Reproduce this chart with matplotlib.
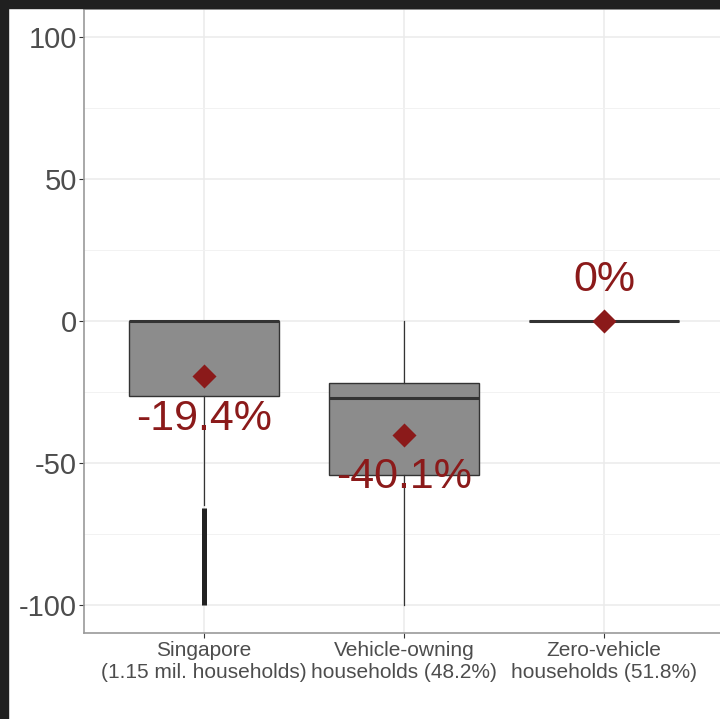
import matplotlib.pyplot as plt
from matplotlib.patches import Rectangle

plt.rcParams['font.family'] = ['Liberation Sans', 'DejaVu Sans']
plt.rcParams['axes.unicode_minus'] = False

# change in household share per group (%)
groups = ["Singapore\n(1.15 mil. households)",
          "Vehicle-owning\nhouseholds (48.2%)",
          "Zero-vehicle\nhouseholds (51.8%)"]
q1 = [-26.5, -54.3, 0]
median = [0, -27, 0]
q3 = [0, -22, 0]
whisker_low = [-65, -100, 0]
whisker_high = [0, 0, 0]
means = [-19.4, -40.1, 0]
# Singapore outliers sit so close together they form a solid bar
outlier_low = -100
outlier_high = -66

box_fill = "#8c8c8c"
line_col = "#333333"
red = "#8b1a1a"

fig = plt.figure(figsize=(7.2, 7.19), dpi=100)
ax = fig.add_axes([84 / 720, 1 - 633 / 719, 640 / 720, 624 / 719])

stats = []
for i in range(len(groups)):
    stats.append(dict(med=median[i], q1=q1[i], q3=q3[i],
                      whislo=whisker_low[i], whishi=whisker_high[i],
                      fliers=[]))

pos = [1, 2, 3]
ax.bxp(stats, positions=pos, widths=0.75, patch_artist=True,
       showcaps=False, showfliers=False,
       boxprops=dict(facecolor=box_fill, edgecolor=line_col, linewidth=1.0),
       medianprops=dict(color=line_col, linewidth=2.2),
       whiskerprops=dict(color=line_col, linewidth=0.9), zorder=3)

ax.vlines(1, outlier_low, outlier_high, color="#222222", linewidth=3.6,
          zorder=3)

ax.scatter(pos, means, marker="D", s=150, color=red, zorder=5, linewidths=0)
for x, m in zip(pos, means):
    ty = m - 15 if m < 0 else m + 14.5
    ax.text(x, ty, "%g%%" % m, color=red, fontsize=31,
            ha="center", va="center", zorder=6)

ax.set_xlim(0.4, 3.6)
ax.set_ylim(-110, 110)
ax.set_yticks([-100, -50, 0, 50, 100])
ax.set_yticks([-75, -25, 25, 75], minor=True)
ax.set_xticks(pos)
ax.set_xticklabels(groups, linespacing=1.2)

ax.grid(True, which="major", color="#ebebeb", linewidth=1.1, zorder=0)
ax.grid(True, which="minor", axis="y", color="#f2f2f2", linewidth=0.7,
        zorder=0)
ax.set_axisbelow(True)

ax.tick_params(axis="y", which="major", labelsize=21, labelcolor="#4d4d4d",
               color=line_col, length=3.5, width=0.8, pad=1.5)
ax.tick_params(axis="x", which="major", labelsize=15, labelcolor="#4d4d4d",
               color=line_col, length=3.5, width=0.8, pad=2)
ax.tick_params(which="minor", length=0)

for s in ax.spines.values():
    s.set_color("#9a9a9a")
    s.set_linewidth(1.2)

# dark frame along the top and left edge
fig.patches.append(Rectangle((0, 1 - 8 / 719), 1, 8 / 719,
                             transform=fig.transFigure, color="#202020",
                             zorder=10))
fig.patches.append(Rectangle((0, 0), 8 / 720, 1,
                             transform=fig.transFigure, color="#202020",
                             zorder=10))

fig.savefig("out.png", dpi=100)
